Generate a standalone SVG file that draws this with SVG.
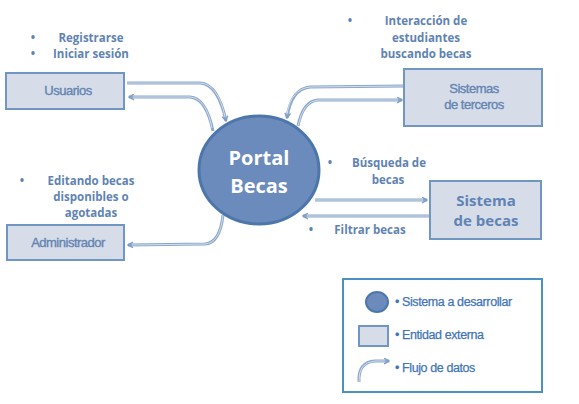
<svg xmlns="http://www.w3.org/2000/svg" width="579" height="404" viewBox="0 0 579 404">
<defs>
<marker id="ah" viewBox="0 0 10 10" refX="8" refY="5" markerWidth="7" markerHeight="7" orient="auto" markerUnits="userSpaceOnUse">
<path d="M1,1 L8,5 L1,9" fill="none" stroke="#7f9dc4" stroke-width="2"/>
</marker>
</defs>
<style>
.ent{fill:#d6dde9;stroke:#7096c2;stroke-width:2}
.etxt{font-family:"Liberation Sans",Arial,sans-serif;font-size:13px;fill:#6484b1;stroke:#6484b1;stroke-width:0.35;text-anchor:middle;letter-spacing:-0.5px}
.lbl{font-family:"Open Sans","Noto Sans",sans-serif;font-weight:bold;font-size:11.5px;fill:#5f83b4;text-anchor:middle}
.bul{font-family:"Open Sans","Noto Sans",sans-serif;font-weight:bold;font-size:11.5px;fill:#5f83b4;text-anchor:middle}
.flow{fill:none;stroke:#8ca8cc;stroke-width:3}
.flowin{fill:none;stroke:#d3deec;stroke-width:1}
.leg{font-family:"Liberation Sans",Arial,sans-serif;font-size:12.5px;fill:#3f75b8;stroke:#3f75b8;stroke-width:0.25;letter-spacing:-0.4px}
</style>
<rect width="579" height="404" fill="#ffffff"/>

<g id="connectors">
<path class="flow" d="M127,83 L200,83 Q218,84 226,121" marker-end="url(#ah)"/>
<path class="flowin" d="M127,83 L200,83 Q218,84 225,117"/>
<path class="flow" d="M213,131 Q206,98 190,97 L129,97" marker-end="url(#ah)"/>
<path class="flowin" d="M212,128 Q206,98 190,97 L133,97"/>
<path class="flow" d="M404,86 L310,87 Q291,89 287,118" marker-end="url(#ah)"/>
<path class="flowin" d="M404,86 L310,87 Q291,89 287,114"/>
<path class="flow" d="M298,126 Q303,101 318,100 L402,100" marker-end="url(#ah)"/>
<path class="flowin" d="M298,126 Q303,101 318,100 L398,100"/>
<path class="flow" d="M315,200 L427,200" marker-end="url(#ah)"/>
<path class="flowin" d="M315,200 L423,200"/>
<path class="flow" d="M430,216 L303,216" marker-end="url(#ah)"/>
<path class="flowin" d="M430,216 L307,216"/>
<path class="flow" d="M223,215 Q220,243 205,244 L128,245" marker-end="url(#ah)"/>
<path class="flowin" d="M223,215 Q220,243 205,244 L132,245"/>
</g>

<g id="portal">
<ellipse cx="259" cy="170" rx="60" ry="54" fill="#6a8bbb" stroke="#4d77ab" stroke-width="3"/>
<text x="259" y="165" font-family="'Open Sans','Noto Sans',sans-serif" font-weight="bold" font-size="20" fill="#ffffff" text-anchor="middle">Portal</text>
<text x="259" y="193" font-family="'Open Sans','Noto Sans',sans-serif" font-weight="bold" font-size="20" fill="#ffffff" text-anchor="middle">Becas</text>
</g>

<g id="usuarios">
<rect class="ent" x="6" y="73" width="118" height="36"/>
<text class="etxt" x="68" y="95">Usuarios</text>
</g>

<g id="terceros">
<rect class="ent" x="404" y="69" width="138" height="57"/>
<text class="etxt" x="474" y="93">Sistemas</text>
<text class="etxt" x="474" y="109">de terceros</text>
</g>

<g id="sistema-becas">
<rect class="ent" x="430" y="181" width="111" height="58"/>
<text x="486" y="206" font-family="'Open Sans','Noto Sans',sans-serif" font-weight="bold" font-size="15" fill="#5f83b4" text-anchor="middle">Sistema</text>
<text x="486" y="226" font-family="'Open Sans','Noto Sans',sans-serif" font-weight="bold" font-size="15" fill="#5f83b4" text-anchor="middle">de becas</text>
</g>

<g id="administrador">
<rect class="ent" x="7" y="225" width="117" height="35"/>
<text class="etxt" x="68" y="247">Administrador</text>
</g>

<g id="labels">
<text class="bul" x="33" y="42">•</text>
<text class="lbl" x="91" y="42">Registrarse</text>
<text class="bul" x="33" y="58">•</text>
<text class="lbl" x="91" y="58">Iniciar sesión</text>

<text class="bul" x="350" y="25">•</text>
<text class="lbl" x="426" y="25">Interacción de</text>
<text class="lbl" x="426" y="42">estudiantes</text>
<text class="lbl" x="426" y="58">buscando becas</text>

<text class="bul" x="22" y="185">•</text>
<text class="lbl" x="91" y="185">Editando becas</text>
<text class="lbl" x="91" y="201">disponibles o</text>
<text class="lbl" x="91" y="217">agotadas</text>

<text class="bul" x="330" y="167">•</text>
<text class="lbl" x="389" y="167">Búsqueda de</text>
<text class="lbl" x="388" y="184">becas</text>

<text class="bul" x="311" y="234">•</text>
<text class="lbl" x="370" y="234">Filtrar becas</text>
</g>

<g id="legend">
<rect x="343" y="279" width="199" height="113" fill="#ffffff" stroke="#4a92c4" stroke-width="2"/>
<ellipse cx="377" cy="302" rx="11" ry="10" fill="#6a8bbb" stroke="#4d77ab" stroke-width="2"/>
<rect class="ent" x="359" y="326" width="29" height="20" stroke-width="1.5"/>
<path class="flow" d="M359,382 Q358,362 375,361 L389,361" marker-end="url(#ah)"/>
<path class="flowin" d="M359,382 Q358,362 375,361 L385,361"/>
<text class="leg" x="395" y="306">• Sistema a desarrollar</text>
<text class="leg" x="395" y="339">• Entidad externa</text>
<text class="leg" x="395" y="372">• Flujo de datos</text>
</g>
</svg>
